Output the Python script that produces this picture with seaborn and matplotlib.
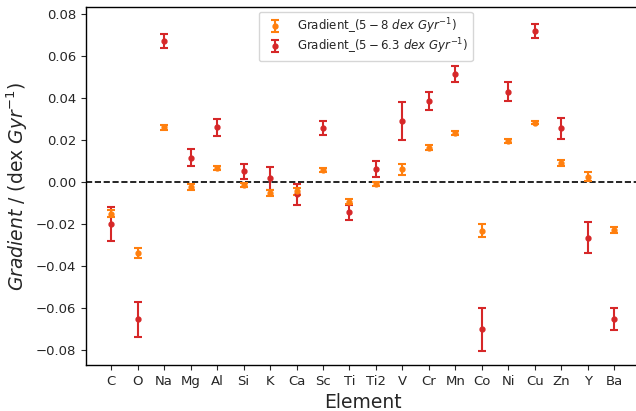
import matplotlib
matplotlib.use("Agg")
import matplotlib.pyplot as plt
import seaborn as sns
import numpy as np
import pandas as pd

elements = ["C", "O", "Na", "Mg", "Al", "Si", "K", "Ca", "Sc", "Ti", "Ti2",
            "V", "Cr", "Mn", "Co", "Ni", "Cu", "Zn", "Y", "Ba"]

grad_5_8 = [-0.0150, -0.0340, 0.0260, -0.0024, 0.0065, -0.0013, -0.0052, -0.0045,
            0.0059, -0.0094, -0.0011, 0.0060, 0.0163, 0.0233, -0.0232, 0.0195,
            0.0283, 0.0090, 0.0025, -0.0229]
err_5_8 = [0.0018, 0.0024, 0.0012, 0.0013, 0.0010, 0.0010, 0.0016, 0.0015,
           0.0009, 0.0011, 0.0010, 0.0027, 0.0011, 0.0011, 0.0032, 0.0011,
           0.0009, 0.0016, 0.0022, 0.0016]

grad_5_63 = [-0.0200, -0.0654, 0.0670, 0.0116, 0.0260, 0.0051, 0.0018, -0.0059,
             0.0257, -0.0145, 0.0063, 0.0290, 0.0386, 0.0514, -0.0700, 0.0430,
             0.0720, 0.0256, -0.0265, -0.0652]
err_5_63 = [0.0080, 0.0083, 0.0033, 0.0040, 0.0042, 0.0037, 0.0054, 0.0050,
            0.0033, 0.0036, 0.0038, 0.0092, 0.0043, 0.0040, 0.0102, 0.0045,
            0.0034, 0.0050, 0.0073, 0.0051]

label_a = r"Gradient_($5-8\ dex\ Gyr^{-1}$)"
label_b = r"Gradient_($5-6.3\ dex\ Gyr^{-1}$)"

df = pd.DataFrame({"Element": elements * 2,
                   "Gradient": grad_5_8 + grad_5_63,
                   "Err": err_5_8 + err_5_63,
                   "Series": [label_a] * len(elements) + [label_b] * len(elements)})

sns.set_style("ticks")
fig = plt.figure(figsize=(6.36, 4.11), dpi=100)
ax = fig.add_axes([86 / 636, (411 - 365) / 411, (640 - 86) / 636, (365 - 7) / 411])

colors = {label_a: "#ff7f0e", label_b: "#d62728"}
handles = {}
for lab in [label_b, label_a]:
    sub = df[df["Series"] == lab]
    h = ax.errorbar(sub["Element"], sub["Gradient"], yerr=sub["Err"], fmt="o",
                    color=colors[lab], ecolor=colors[lab], markersize=3.5,
                    elinewidth=1.5, capsize=3, capthick=1.5, label=lab,
                    linestyle="none")
    handles[lab] = h

ax.axhline(0, color="black", linestyle="--", linewidth=1.2, zorder=0)
ax.set_xlim(-0.95, 19.97)
ax.set_ylim(-0.0871, 0.0833)
ax.set_yticks([-0.08, -0.06, -0.04, -0.02, 0.0, 0.02, 0.04, 0.06, 0.08])
ax.tick_params(axis="both", labelsize=9.5)
ax.set_xlabel("Element", fontsize=13.5)
ax.set_ylabel(r"$Gradient$ / (dex $Gyr^{-1}$)", fontsize=13.5)
for s in ax.spines.values():
    s.set_color("black")
    s.set_linewidth(1.0)
ax.spines["right"].set_visible(False)

ax.legend([handles[label_a], handles[label_b]], [label_a, label_b],
          loc="upper center", fontsize=8.5, frameon=True, labelspacing=0.05,
          borderaxespad=0.4, bbox_to_anchor=(0.505, 1.0))

fig.savefig("out.png", dpi=100)
